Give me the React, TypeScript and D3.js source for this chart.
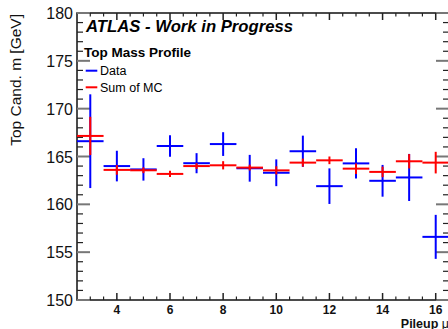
import React from "react";
import * as d3 from "d3";

const pileup = [3, 4, 5, 6, 7, 8, 9, 10, 11, 12, 13, 14, 15, 16];
const dataVals = [166.6, 164.0, 163.65, 166.1, 164.3, 166.3, 163.77, 163.3, 165.55, 161.9, 164.28, 162.46, 162.81, 156.6];
const dataErr = [4.9, 1.6, 1.17, 1.13, 1.05, 1.24, 1.4, 1.4, 1.63, 1.86, 1.58, 1.66, 2.46, 2.3];
const mcVals = [167.15, 163.6, 163.56, 163.18, 164.0, 164.08, 163.84, 163.55, 164.36, 164.6, 163.73, 163.39, 164.5, 164.36];
const mcErr = [2.0, 0.5, 0.3, 0.33, 0.3, 0.43, 0.3, 0.43, 0.42, 0.4, 0.55, 0.55, 0.75, 1.13];
const xTickLabels = [4, 6, 8, 10, 12, 14, 16];
const yTickLabels = [150, 155, 160, 165, 170, 175, 180];

const W = 448;
const H = 329;
const left = 77;
const right = 449;
const top = 13;
const bottom = 300;
const FONT = "'Liberation Sans', Arial, Helvetica, sans-serif";

export default function App() {
  const x = d3.scaleLinear().domain([2.5, 16.5]).range([left, right]);
  const y = d3.scaleLinear().domain([150, 180]).range([bottom, top]);

  const xMinor = d3.range(3, 16.5, 0.5).filter((v) => v % 2 !== 0);
  const yMinor = d3.range(150, 181, 1).filter((v) => v % 5 !== 0);

  const errBars = (vals: number[], errs: number[], color: string, key: string) =>
    pileup.map((p, i) => (
      <g key={key + i} stroke={color} strokeWidth={2}>
        <line x1={x(p - 0.5)} x2={x(p + 0.5)} y1={y(vals[i])} y2={y(vals[i])} />
        <line x1={x(p)} x2={x(p)} y1={y(vals[i] + errs[i])} y2={y(vals[i] - errs[i])} />
      </g>
    ));

  return (
    <svg width={W} height={H} style={{ position: "absolute", left: 0, top: 0, background: "#fff" }} fontFamily={FONT}>
      <rect x={0} y={0} width={W} height={H} fill="#fff" />
      {/* frame */}
      <rect x={left} y={top} width={right - left} height={bottom - top} fill="none" stroke="#111" strokeWidth={1.5} />
      {/* y ticks */}
      {yTickLabels.map((v) => (
        <g key={"ym" + v} stroke="#777" strokeWidth={2}>
          <line x1={left} x2={left + 13} y1={y(v)} y2={y(v)} />
          <line x1={right} x2={right - 13} y1={y(v)} y2={y(v)} />
        </g>
      ))}
      {yMinor.map((v) => (
        <g key={"yn" + v} stroke="#222" strokeWidth={1.2}>
          <line x1={left} x2={left + 6} y1={y(v)} y2={y(v)} />
          <line x1={right} x2={right - 6} y1={y(v)} y2={y(v)} />
        </g>
      ))}
      {/* x ticks */}
      {xTickLabels.map((v) => (
        <g key={"xm" + v} stroke="#222" strokeWidth={1.5}>
          <line x1={x(v)} x2={x(v)} y1={bottom} y2={bottom - 7} />
          <line x1={x(v)} x2={x(v)} y1={top} y2={top + 7} />
        </g>
      ))}
      {xMinor.map((v) => (
        <g key={"xn" + v} stroke="#222" strokeWidth={1.2}>
          <line x1={x(v)} x2={x(v)} y1={bottom} y2={bottom - 3.5} />
          <line x1={x(v)} x2={x(v)} y1={top} y2={top + 3.5} />
        </g>
      ))}
      {/* y tick labels */}
      {yTickLabels.map((v) => (
        <text key={"yl" + v} x={73} y={y(v) + 6} fontSize={16} textAnchor="end" fill="#111">
          {v}
        </text>
      ))}
      {/* x tick labels */}
      {xTickLabels.map((v) => (
        <text key={"xl" + v} x={x(v)} y={313.5} fontSize={12} fontWeight="bold" textAnchor="middle" fill="#111">
          {v}
        </text>
      ))}
      {/* axis titles */}
      <text x={449} y={327.5} fontSize={12.5} fontWeight="bold" textAnchor="end" fill="#111">
        Pileup <tspan fontWeight="normal">μ</tspan>
      </text>
      <text transform={`translate(20.5,14) rotate(-90)`} fontSize={15.5} textAnchor="end" fill="#111">
        Top Cand. m [GeV]
      </text>
      {/* markers */}
      {errBars(dataVals, dataErr, "#0000ff", "d")}
      {errBars(mcVals, mcErr, "#ff0000", "m")}
      {/* labels */}
      <text x={86} y={31.5} fontSize={16.7} fontWeight="bold" fontStyle="italic" fill="#000">
        ATLAS - Work in Progress
      </text>
      <text x={84} y={57.3} fontSize={13.5} fontWeight="bold" fill="#000">
        Top Mass Profile
      </text>
      <line x1={85.7} x2={97.3} y1={70.7} y2={70.7} stroke="#0000ff" strokeWidth={2} />
      <text x={100} y={75} fontSize={12.5} fill="#000">
        Data
      </text>
      <line x1={85.7} x2={97.3} y1={87.3} y2={87.3} stroke="#ff0000" strokeWidth={2} />
      <text x={100} y={91.7} fontSize={12.5} fill="#000">
        Sum of MC
      </text>
    </svg>
  );
}
